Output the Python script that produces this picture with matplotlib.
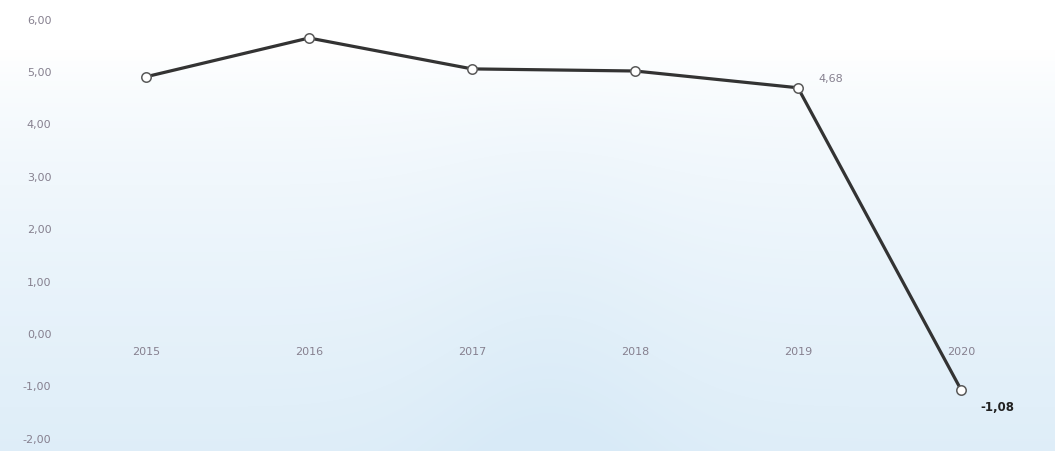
import numpy as np
import matplotlib
matplotlib.use("Agg")
import matplotlib.pyplot as plt

# growth figures by year
years = ["2015", "2016", "2017", "2018", "2019", "2020"]
values = [4.89, 5.63, 5.04, 5.00, 4.68, -1.08]
y_ticks = [-2, -1, 0, 1, 2, 3, 4, 5, 6]


def comma(v):
    return f"{v:.2f}".replace(".", ",")


fig = plt.figure(figsize=(10.55, 4.52), dpi=100)
ax = fig.add_axes([0, 0, 1, 1])

x = np.arange(len(years))
ax.set_xlim(-0.896, 5.577)
ax.set_ylim(-2.252, 6.374)

# soft blue background: white at the top, bluer toward the bottom and middle
h, w = 200, 400
gy = np.linspace(0, 1, h)[:, None]
gx = np.linspace(0, 1, w)[None, :]
depth = np.clip((gy - 0.12) / 0.88, 0, 1) ** 0.7
depth = depth * (0.85 + 0.2 * np.exp(-((gx - 0.52) / 0.12) ** 2))
depth = np.clip(depth, 0, 1)
top = np.array([1.0, 1.0, 1.0])
bottom = np.array([0.85, 0.92, 0.97])
img = top + (bottom - top) * depth[..., None]
ax.imshow(img, extent=[0, 1, 0, 1], transform=ax.transAxes, aspect="auto",
          origin="upper", zorder=0, interpolation="bicubic")

ax.plot(x, values, color="#333333", lw=2.3, zorder=3,
        marker="o", ms=6.8, mfc="white", mec="#5a5a5a", mew=1.1,
        solid_joinstyle="round")

# y tick labels drawn inside the plot area
ax.set_yticks(y_ticks)
ax.set_yticklabels([comma(v) for v in y_ticks])
ax.tick_params(axis="y", direction="in", length=0, pad=-37,
               labelsize=8, labelcolor="#86808f")
ax.set_xticks([])

# year labels just under the zero line
for i, yr in enumerate(years):
    ax.annotate(yr, (i, 0), xytext=(0, -13), textcoords="offset points",
                ha="center", va="center", fontsize=8, color="#86808f")

ax.annotate(comma(values[4]), (4, values[4]), xytext=(24, 7),
            textcoords="offset points", ha="center", va="center",
            fontsize=8, color="#86808f")
ax.annotate(comma(values[5]), (5, values[5]), xytext=(26, -12),
            textcoords="offset points", ha="center", va="center",
            fontsize=8.5, color="#222222", fontweight="bold")

for s in ax.spines.values():
    s.set_visible(False)

fig.savefig("out.png", dpi=100)
